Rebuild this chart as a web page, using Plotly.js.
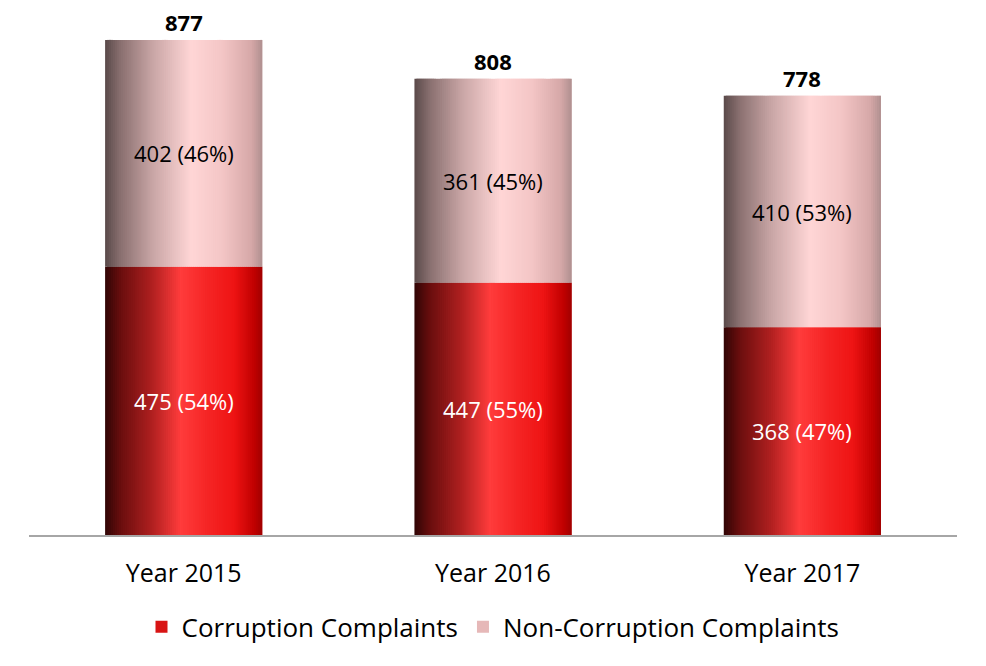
<!DOCTYPE html>
<html>
<head>
<meta charset="utf-8">
<script src="https://cdn.plot.ly/plotly-3.0.1.min.js"></script>
<style>html,body{margin:0;padding:0;background:#fff;}#chart{width:986px;height:666px;}</style>
</head>
<body>
<div id="chart"></div>
<script>
// ---- data ----
const categories = ["Year 2015", "Year 2016", "Year 2017"];
const corruption = [475, 447, 368];
const nonCorruption = [402, 361, 410];
const corruptionPct = [54, 55, 47];
const nonCorruptionPct = [46, 45, 53];
const totals = [877, 808, 778];
const seriesNames = ["Corruption Complaints", "Non-Corruption Complaints"];

// ---- style ----
const FONT = "'Open Sans', sans-serif";
const BAR_W = 0.508;
const N = 80;
const redStops = [[0,[48,5,5]],[0.1,[106,14,14]],[0.3,[176,32,32]],[0.48,[255,60,60]],[0.65,[245,37,37]],[0.82,[238,20,20]],[0.95,[192,0,0]],[1,[160,0,0]]];
const pinkStops = [[0,[90,74,74]],[0.1,[138,112,112]],[0.3,[200,165,165]],[0.55,[255,214,214]],[0.75,[243,197,197]],[0.93,[214,168,168]],[1,[176,144,144]]];
function interp(stops, t){
  for(let k=0;k<stops.length-1;k++){
    const [a,ca]=stops[k],[b,cb]=stops[k+1];
    if(t>=a && t<=b){
      const f=(t-a)/(b-a);
      const c=ca.map((v,j)=>Math.round(v+(cb[j]-v)*f));
      return `rgb(${c[0]},${c[1]},${c[2]})`;
    }
  }
  const c=stops[stops.length-1][1];return `rgb(${c[0]},${c[1]},${c[2]})`;
}
const traces=[];
const sw = BAR_W/N;
for(let i=0;i<N;i++){
  const t=(i+0.5)/N;
  const w = (i===N-1) ? sw : sw*2;
  traces.push({type:'bar',x:categories,y:corruption,base:corruption.map(()=>0),
    width:w,offset:-BAR_W/2+i*sw,marker:{color:interp(redStops,t),line:{width:0}},
    showlegend:false,hoverinfo:'skip'});
  traces.push({type:'bar',x:categories,y:nonCorruption,base:corruption,
    width:w,offset:-BAR_W/2+i*sw,marker:{color:interp(pinkStops,t),line:{width:0}},
    showlegend:false,hoverinfo:'skip'});
}
// legend entries
traces.push({type:'bar',x:[null],y:[null],name:seriesNames[0],marker:{color:'#d81414'},showlegend:true});
traces.push({type:'bar',x:[null],y:[null],name:seriesNames[1],marker:{color:'#e6b8b8'},showlegend:true});

const annotations=[];
categories.forEach((c,i)=>{
  annotations.push({x:c,y:corruption[i]/2,text:`${corruption[i]} (${corruptionPct[i]}%)`,showarrow:false,
    font:{family:FONT,size:22,color:'#ffffff'}});
  annotations.push({x:c,y:corruption[i]+nonCorruption[i]/2,text:`${nonCorruption[i]} (${nonCorruptionPct[i]}%)`,showarrow:false,
    font:{family:FONT,size:22,color:'#000000'}});
  annotations.push({x:c,y:totals[i],text:`<b>${totals[i]}</b>`,showarrow:false,yanchor:'bottom',yshift:1,
    font:{family:FONT,size:22,color:'#000000'}});
});

const layout={
  width:986,height:666,
  margin:{l:29,r:29,t:10,b:131},
  paper_bgcolor:'#ffffff',plot_bgcolor:'#ffffff',
  barmode:'overlay',
  font:{family:FONT,size:22,color:'#000'},
  xaxis:{type:'category',range:[-0.5,2.5],showline:true,linecolor:'#a6a6a6',linewidth:2,
    ticks:'',showgrid:false,zeroline:false,tickfont:{family:FONT,size:25,color:'#000'},
    ticklabelstandoff:15,fixedrange:true},
  yaxis:{range:[0,930],visible:false,showgrid:false,zeroline:false,fixedrange:true},
  showlegend:true,
  legend:{orientation:'h',x:0.5,xanchor:'center',y:-0.13,yanchor:'top',font:{family:FONT,size:26,color:'#000'},
    itemwidth:30,tracegroupgap:0},
  annotations:annotations
};
Plotly.newPlot('chart',traces,layout,{displayModeBar:false,staticPlot:true});
</script>
</body>
</html>
